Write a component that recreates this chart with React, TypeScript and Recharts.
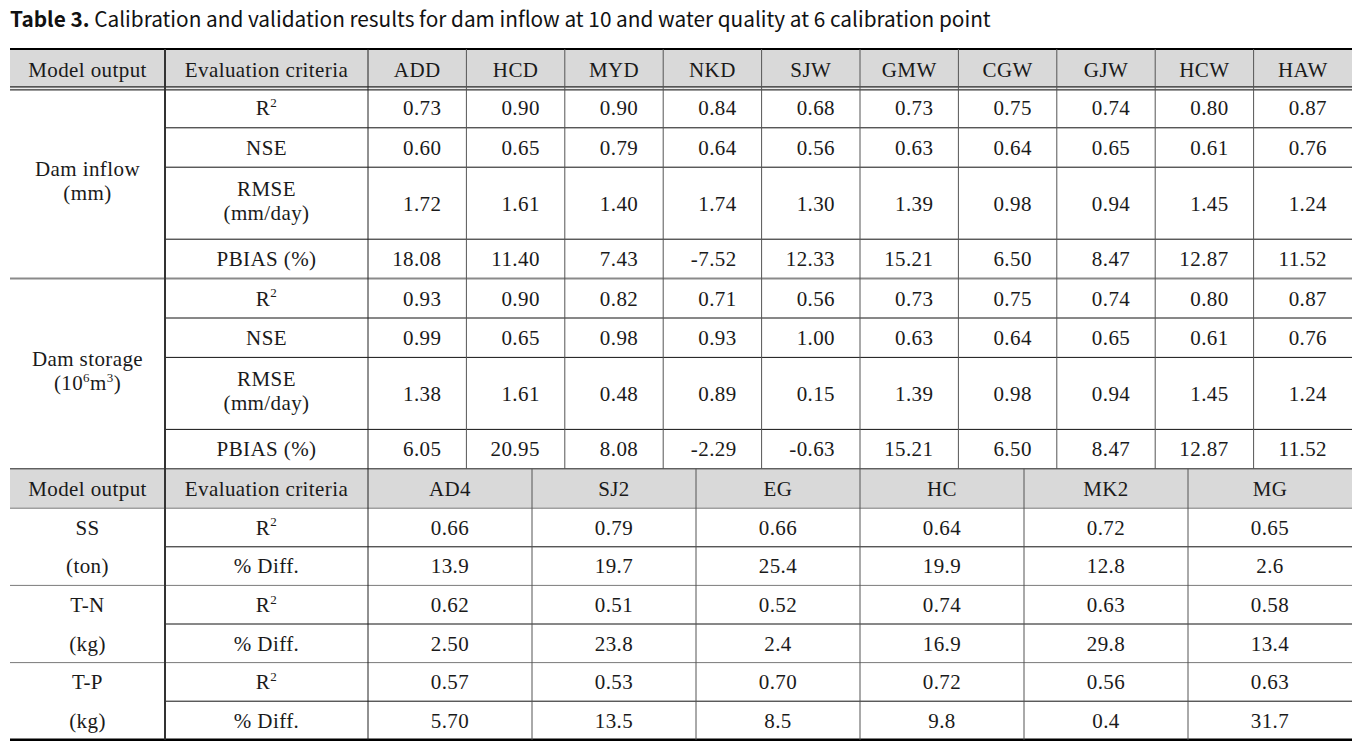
import { ScatterChart, Scatter, XAxis, YAxis, ReferenceLine, ReferenceArea } from "recharts";

const TITLE_BOLD = "Table 3.";
const TITLE_REST = " Calibration and validation results for dam inflow at 10 and water quality at 6 calibration point";

const HEAD_MODEL = "Model output";
const HEAD_CRITERIA = "Evaluation criteria";

// upper block: dams
const DAM_STATIONS = ["ADD", "HCD", "MYD", "NKD", "SJW", "GMW", "CGW", "GJW", "HCW", "HAW"];
const DAM_CRITERIA = ["R^2", "NSE", "RMSE\n(mm/day)", "PBIAS (%)"];
const DAM_OUTPUTS = ["Dam inflow\n(mm)", "Dam storage\n(10^6m^3)"];

const INFLOW_R2 = ["0.73", "0.90", "0.90", "0.84", "0.68", "0.73", "0.75", "0.74", "0.80", "0.87"];
const INFLOW_NSE = ["0.60", "0.65", "0.79", "0.64", "0.56", "0.63", "0.64", "0.65", "0.61", "0.76"];
const INFLOW_RMSE = ["1.72", "1.61", "1.40", "1.74", "1.30", "1.39", "0.98", "0.94", "1.45", "1.24"];
const INFLOW_PBIAS = ["18.08", "11.40", "7.43", "-7.52", "12.33", "15.21", "6.50", "8.47", "12.87", "11.52"];

const STORAGE_R2 = ["0.93", "0.90", "0.82", "0.71", "0.56", "0.73", "0.75", "0.74", "0.80", "0.87"];
const STORAGE_NSE = ["0.99", "0.65", "0.98", "0.93", "1.00", "0.63", "0.64", "0.65", "0.61", "0.76"];
const STORAGE_RMSE = ["1.38", "1.61", "0.48", "0.89", "0.15", "1.39", "0.98", "0.94", "1.45", "1.24"];
const STORAGE_PBIAS = ["6.05", "20.95", "8.08", "-2.29", "-0.63", "15.21", "6.50", "8.47", "12.87", "11.52"];

// lower block: water quality
const WQ_STATIONS = ["AD4", "SJ2", "EG", "HC", "MK2", "MG"];
const WQ_CRITERIA = ["R^2", "% Diff."];
const WQ_OUTPUTS = ["SS\n(ton)", "T-N\n(kg)", "T-P\n(kg)"];

const SS_R2 = ["0.66", "0.79", "0.66", "0.64", "0.72", "0.65"];
const SS_DIFF = ["13.9", "19.7", "25.4", "19.9", "12.8", "2.6"];
const TN_R2 = ["0.62", "0.51", "0.52", "0.74", "0.63", "0.58"];
const TN_DIFF = ["2.50", "23.8", "2.4", "16.9", "29.8", "13.4"];
const TP_R2 = ["0.57", "0.53", "0.70", "0.72", "0.56", "0.63"];
const TP_DIFF = ["5.70", "13.5", "8.5", "9.8", "0.4", "31.7"];

const DAM_VALUES = [
  [INFLOW_R2, INFLOW_NSE, INFLOW_RMSE, INFLOW_PBIAS],
  [STORAGE_R2, STORAGE_NSE, STORAGE_RMSE, STORAGE_PBIAS],
];
const WQ_VALUES = [
  [SS_R2, SS_DIFF],
  [TN_R2, TN_DIFF],
  [TP_R2, TP_DIFF],
];

/* ---------- layout ---------- */
const W = 1371;
const H = 742;
const X0 = 10;
const X1 = 165;
const X2 = 368;
const X3 = 1352;
const Y_TOP = 49;
const SINGLE = 39.4;
const DOUBLE = 72;
const LOW = 38.6;
const PAD_RIGHT = 25;

const SERIF = '"Liberation Serif", "Times New Roman", serif';
const SANS = '"Noto Sans CJK KR", "Noto Sans", sans-serif';
const FONT = 21;

type CellItem = { x: number; y: number; text: string; anchor: "start" | "middle" | "end"; kind: "body" | "title"; gap?: number };
type Seg = { x1: number; x2: number; y1: number; y2: number; w: number; c: string };
type Area = { x1: number; x2: number; y1: number; y2: number };

const cells: CellItem[] = [];
const segs: Seg[] = [];
const areas: Area[] = [];

const hline = (y: number, x1: number, x2: number, w: number, c: string) => segs.push({ x1, x2, y1: y, y2: y, w, c });
const vline = (x: number, y1: number, y2: number, w: number, c: string) => segs.push({ x1: x, x2: x, y1, y2, w, c });
const mid = (a: number, b: number) => (a + b) / 2;

cells.push({ x: X0, y: 20, text: "", anchor: "start", kind: "title" });

// header 1
let y = Y_TOP;
const upCol = (i: number) => X2 + (i * (X3 - X2)) / DAM_STATIONS.length;
areas.push({ x1: X0, x2: X3, y1: y, y2: y + SINGLE });
cells.push({ x: mid(X0, X1), y: y + SINGLE / 2 + 1, text: HEAD_MODEL, anchor: "middle", kind: "body" });
cells.push({ x: mid(X1, X2), y: y + SINGLE / 2 + 1, text: HEAD_CRITERIA, anchor: "middle", kind: "body" });
DAM_STATIONS.forEach((s, i) => cells.push({ x: mid(upCol(i), upCol(i + 1)), y: y + SINGLE / 2 + 1, text: s, anchor: "middle", kind: "body" }));
hline(Y_TOP, X0, X3, 2, "#000");
y += SINGLE;
hline(y - 1.5, X0, X3, 1, "#000");
hline(y + 1.5, X0, X3, 1, "#000");

DAM_OUTPUTS.forEach((out, bi) => {
  const start = y;
  DAM_CRITERIA.forEach((crit, ri) => {
    const two = crit.includes("\n");
    const h = two ? DOUBLE : SINGLE;
    const cy = y + h / 2;
    cells.push({ x: mid(X1, X2), y: two ? cy - 3 : cy, text: crit, anchor: "middle", kind: "body", gap: 24 });
    DAM_VALUES[bi][ri].forEach((v, i) => cells.push({ x: upCol(i + 1) - PAD_RIGHT, y: cy, text: v, anchor: "end", kind: "body" }));
    y += h;
    if (ri < DAM_CRITERIA.length - 1) hline(y, X1, X3, 1, "#111");
  });
  cells.push({ x: mid(X0, X1), y: mid(start, y) - 3, text: out, anchor: "middle", kind: "body", gap: 24 });
  if (bi < DAM_OUTPUTS.length - 1) hline(y, X0, X3, 2, "#8a8a8a");
});
const upperEnd = y;
hline(upperEnd, X0, X3, 1, "#222");

// header 2
const lowCol = (i: number) => X2 + (i * (X3 - X2)) / WQ_STATIONS.length;
areas.push({ x1: X0, x2: X3, y1: y, y2: y + SINGLE });
cells.push({ x: mid(X0, X1), y: y + SINGLE / 2, text: HEAD_MODEL, anchor: "middle", kind: "body" });
cells.push({ x: mid(X1, X2), y: y + SINGLE / 2, text: HEAD_CRITERIA, anchor: "middle", kind: "body" });
WQ_STATIONS.forEach((s, i) => cells.push({ x: mid(lowCol(i), lowCol(i + 1)), y: y + SINGLE / 2, text: s, anchor: "middle", kind: "body" }));
y += SINGLE;
hline(y, X0, X3, 1, "#7a7a7a");

WQ_OUTPUTS.forEach((out, bi) => {
  const start = y;
  WQ_CRITERIA.forEach((crit, ri) => {
    const cy = y + LOW / 2;
    cells.push({ x: mid(X1, X2), y: cy, text: crit, anchor: "middle", kind: "body" });
    WQ_VALUES[bi][ri].forEach((v, i) => cells.push({ x: mid(lowCol(i), lowCol(i + 1)), y: cy, text: v, anchor: "middle", kind: "body" }));
    y += LOW;
    if (ri < WQ_CRITERIA.length - 1) hline(y, X1, X3, 1, "#111");
  });
  cells.push({ x: mid(X0, X1), y: mid(start, y), text: out, anchor: "middle", kind: "body", gap: LOW });
  if (bi < WQ_OUTPUTS.length - 1) hline(y, X0, X3, 1, "#7a7a7a");
});
const bottom = y;
hline(bottom, X0, X3, 2.5, "#000");

// verticals
vline(X1, Y_TOP, bottom, 2, "#333");
vline(X2, Y_TOP, bottom, 1, "#222");
for (let i = 1; i < DAM_STATIONS.length; i++) vline(upCol(i), Y_TOP, upperEnd, 1, "#555");
for (let i = 1; i < WQ_STATIONS.length; i++) vline(lowCol(i), upperEnd, bottom, 1, "#555");

/* ---------- text rendering ---------- */
function rich(s: string, size: number) {
  const parts = s.split(/\^(\d)/);
  const shift = size * 0.4;
  const out: any[] = [];
  let raised = false;
  parts.forEach((p, i) => {
    if (!p) return;
    if (i % 2 === 1) {
      out.push(
        <tspan key={i} dy={raised ? 0 : -shift} fontSize={size * 0.62}>
          {p}
        </tspan>
      );
      raised = true;
    } else {
      out.push(
        <tspan key={i} dy={raised ? shift : 0}>
          {p}
        </tspan>
      );
      raised = false;
    }
  });
  return out;
}

function CellShape(props: any) {
  const { cx, cy, payload } = props;
  if (payload.kind === "title") {
    return (
      <text x={cx} y={cy + 7} fontFamily={SANS} fontSize={20.8} fill="#111">
        <tspan fontWeight="bold">{TITLE_BOLD}</tspan>
        <tspan>{TITLE_REST}</tspan>
      </text>
    );
  }
  const rows = String(payload.text).split("\n");
  const gap = payload.gap ?? 22;
  return (
    <g>
      {rows.map((r: string, i: number) => (
        <text
          key={i}
          x={cx}
          y={cy + (i - (rows.length - 1) / 2) * gap + FONT * 0.35}
          textAnchor={payload.anchor}
          fontFamily={SERIF}
          fontSize={FONT}
          letterSpacing={0.4}
          fill="#1a1a1a"
        >
          {rich(r, FONT)}
        </text>
      ))}
    </g>
  );
}

export default function App() {
  return (
    <div>
      <style>{"body{margin:0;background:#fff}"}</style>
      <ScatterChart width={W} height={H} margin={{ top: 0, right: 0, bottom: 0, left: 0 }}>
        <XAxis type="number" dataKey="x" domain={[0, W]} allowDataOverflow hide />
        <YAxis type="number" dataKey="y" domain={[0, H]} allowDataOverflow reversed hide />
        {areas.map((a, i) => (
          <ReferenceArea key={`a${i}`} x1={a.x1} x2={a.x2} y1={a.y1} y2={a.y2} fill="#d9d9d9" fillOpacity={1} stroke="none" ifOverflow="visible" />
        ))}
        {segs.map((s, i) => (
          <ReferenceLine
            key={`l${i}`}
            segment={[
              { x: s.x1, y: s.y1 },
              { x: s.x2, y: s.y2 },
            ]}
            stroke={s.c}
            strokeWidth={s.w}
            ifOverflow="visible"
          />
        ))}
        <Scatter data={cells} isAnimationActive={false} shape={CellShape} />
      </ScatterChart>
    </div>
  );
}
